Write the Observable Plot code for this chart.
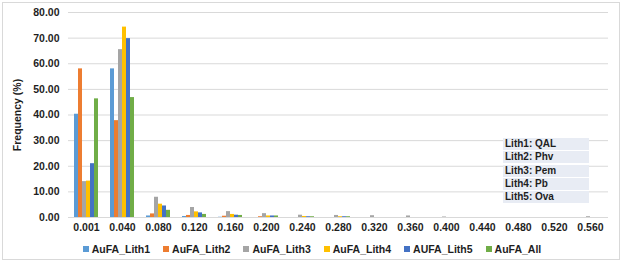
<!DOCTYPE html>
<html>
<head>
<meta charset="utf-8">
<script src="https://cdn.jsdelivr.net/npm/d3@7"></script>
<script src="https://cdn.jsdelivr.net/npm/@observablehq/plot@0.6"></script>
<style>
  body { margin: 0; width: 624px; height: 265px; background: #fff; position: relative; overflow: hidden;
         font-family: "Liberation Sans", Arial, sans-serif; color: #1e1e1e; }
  #frame { position: absolute; left: 2px; top: 2px; width: 618px; height: 258px; border: 1px solid #d9d9d9; box-sizing: border-box; }
  #chart { position: absolute; left: 0; top: 0; }
  #legend { position: absolute; left: 0; top: 243px; width: 624px; display: flex; justify-content: center; gap: 13px;
            font-size: 10.5px; font-weight: bold; line-height: 12px; }
  #legend .item { display: flex; align-items: center; gap: 3px; }
  #legend .swatch { width: 6px; height: 6px; }
  #key { position: absolute; left: 503px; top: 138px; width: 86px; font-size: 10px; font-weight: bold; }
  #key div { background: #e8ecf4; height: 12px; line-height: 12px; padding-left: 2px; margin-bottom: 1.3px; }
</style>
</head>
<body>
<div id="frame"></div>
<div id="chart"></div>
<div id="key"></div>
<div id="legend"></div>
<script>
// Grain-size classes on the horizontal axis
const categories = ["0.001", "0.040", "0.080", "0.120", "0.160", "0.200", "0.240", "0.280",
                    "0.320", "0.360", "0.400", "0.440", "0.480", "0.520", "0.560"];

// Frequency (%) per class for each lithology
const lith1 = [40.3, 58.0, 0.6, 0.4, 0.1, 0, 0, 0, 0, 0, 0, 0, 0, 0, 0];
const lith2 = [58.0, 37.8, 1.4, 0.8, 0.5, 0.3, 0, 0, 0, 0, 0, 0, 0, 0, 0];
const lith3 = [14.0, 65.5, 7.9, 3.9, 2.3, 1.5, 0.9, 0.8, 0.7, 0.6, 0.2, 0, 0, 0, 0.3];
const lith4 = [14.2, 74.3, 5.2, 2.2, 1.2, 0.6, 0.4, 0.3, 0, 0, 0, 0, 0, 0, 0];
const lith5 = [21.0, 69.8, 4.5, 1.8, 0.9, 0.6, 0.3, 0.3, 0, 0, 0, 0, 0, 0, 0];
const lithAll = [46.3, 46.8, 2.8, 1.2, 0.8, 0.6, 0.3, 0.3, 0, 0, 0, 0, 0, 0, 0];

const seriesNames = ["AuFA_Lith1", "AuFA_Lith2", "AuFA_Lith3", "AuFA_Lith4", "AUFA_Lith5", "AuFA_All"];
const seriesColors = ["#5b9bd5", "#ed7d31", "#a5a5a5", "#ffc000", "#4472c4", "#70ad47"];
const yTicks = [0, 10, 20, 30, 40, 50, 60, 70, 80];

const lithKey = ["Lith1: QAL", "Lith2: Phv", "Lith3: Pem", "Lith4: Pb", "Lith5: Ova"];

const seriesValues = [lith1, lith2, lith3, lith4, lith5, lithAll];
const rows = [];
seriesValues.forEach((vals, i) =>
  vals.forEach((v, j) => rows.push({category: categories[j], series: seriesNames[i], value: v}))
);

const chart = Plot.plot({
  width: 624,
  height: 238,
  marginLeft: 62,
  marginRight: 11,
  marginTop: 12,
  marginBottom: 21,
  style: {fontFamily: '"Liberation Sans", Arial, sans-serif', fontSize: "10.5px", fontWeight: "bold", color: "#1e1e1e", background: "transparent"},
  fx: {domain: categories, padding: 0, label: null, axis: "bottom", tickSize: 0, tickPadding: 6},
  x: {domain: seriesNames, axis: null, paddingInner: 0.12, paddingOuter: 0.885},
  y: {domain: [0, 80], ticks: yTicks, tickFormat: d => d.toFixed(2), tickSize: 0, tickPadding: 9,
      label: "Frequency (%)", labelAnchor: "center", labelArrow: "none", labelOffset: 55},
  color: {domain: seriesNames, range: seriesColors},
  marks: [
    Plot.gridY(yTicks, {stroke: "#d9d9d9", strokeOpacity: 1}),
    Plot.barY(rows, {fx: "category", x: "series", y: "value", fill: "series"})
  ]
});
document.getElementById("chart").append(chart);

// Lithology key
const key = document.getElementById("key");
for (const t of lithKey) {
  const d = document.createElement("div");
  d.textContent = t;
  key.append(d);
}

// Series legend
const legend = document.getElementById("legend");
seriesNames.forEach((name, i) => {
  const item = document.createElement("div");
  item.className = "item";
  const sw = document.createElement("span");
  sw.className = "swatch";
  sw.style.background = seriesColors[i];
  const label = document.createElement("span");
  label.textContent = name;
  item.append(sw, label);
  legend.append(item);
});
</script>
</body>
</html>
